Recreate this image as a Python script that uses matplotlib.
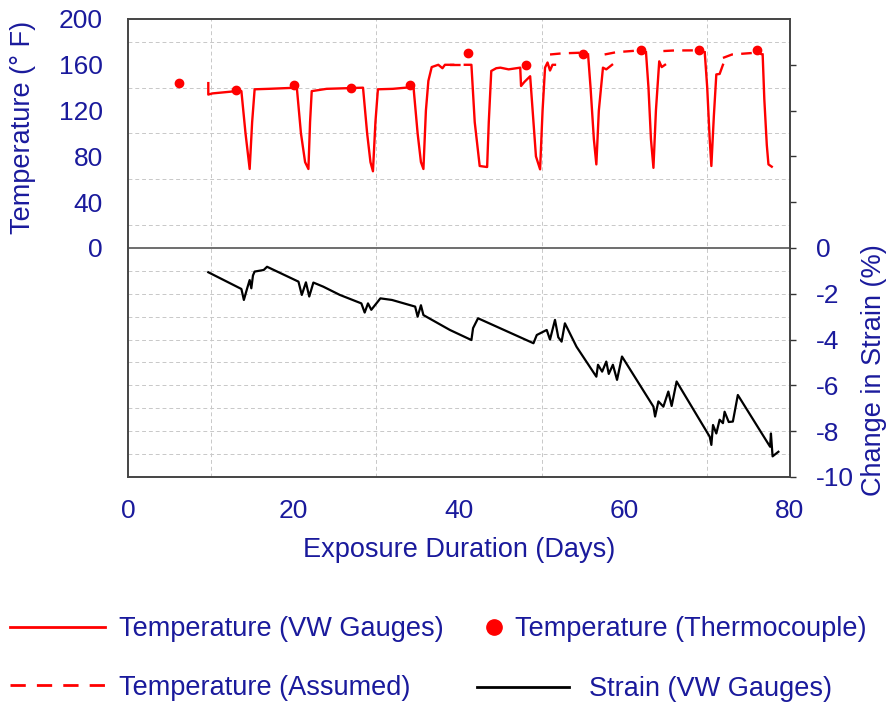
import matplotlib
matplotlib.use("Agg")
import matplotlib.pyplot as plt
from matplotlib.lines import Line2D

plt.rcParams['font.family'] = ['Liberation Sans', 'DejaVu Sans']

txt_color = '#1a1a9c'

# temperature from VW gauges (solid red), one list per measured stretch
vw_days_1 = [9.7, 9.7, 10.2, 13.1, 13.7, 14.2, 14.7, 15.0, 15.3, 17.0, 20.4, 20.9, 21.4, 21.8, 22.0, 22.2,
             24.0, 28.4, 28.9, 29.3, 29.6, 29.9, 30.2, 32.0, 34.5, 35.0, 35.4, 35.7, 36.0, 36.3, 36.7, 37.5,
             38.0, 38.3, 39.3]
vw_temp_1 = [144, 134, 135, 137, 137, 100, 69, 110, 138.6, 139, 140, 100, 75, 69, 110, 137,
             139, 140, 100, 75, 67, 110, 138.6, 139, 140.6, 100, 75, 69, 120, 146, 158, 160,
             157, 160, 160]
vw_days_2 = [40.7, 41.5, 41.9, 42.5, 43.4, 43.6, 43.9, 44.5, 45.0, 46.0, 47.4, 47.5, 47.9, 48.6, 48.9,
             49.3, 49.8, 50.1, 50.4, 50.7, 51.0, 51.3, 51.6]
vw_temp_2 = [160, 160, 110, 71.6, 70.7, 110, 154.6, 157, 157.5, 156, 157.5, 141.5, 145, 150, 120,
             80, 68.7, 120, 157.5, 162, 155, 160, 160]
vw_days_3 = [55.6, 55.9, 56.3, 56.6, 56.9, 57.4, 57.8, 58.5]
vw_temp_3 = [169, 140, 95, 73, 120, 157.5, 156, 160]
vw_days_4 = [62.6, 62.9, 63.2, 63.5, 63.8, 64.2, 64.5, 64.9]
vw_temp_4 = [171, 140, 95, 70, 120, 163, 158, 160]
vw_days_5 = [69.7, 70.0, 70.3, 70.5, 70.8, 71.1, 71.5, 71.9]
vw_temp_5 = [171, 140, 95, 71.6, 115, 151.6, 152, 160]
vw_days_6 = [76.7, 76.9, 77.2, 77.4, 77.8]
vw_temp_6 = [169, 130, 90, 73, 71]

# assumed temperature (dashed red)
as_days_1 = [38.9, 40.7]
as_temp_1 = [160, 160]
as_days_2 = [51.0, 52.5, 55.0, 55.6]
as_temp_2 = [169, 170, 170.6, 169]
as_days_3 = [57.6, 59.0, 61.9, 62.6]
as_temp_3 = [169, 171, 172.6, 171]
as_days_4 = [64.7, 66.0, 68.9, 69.7]
as_temp_4 = [172, 172.5, 172.6, 171]
as_days_5 = [71.9, 73.0, 76.0, 76.7]
as_temp_5 = [166, 169, 170.6, 169]

# thermocouple readings (red dots)
tc_days = [6.2, 13.05, 20.1, 27.0, 34.1, 41.1, 48.1, 55.0, 62.0, 69.0, 76.0]
tc_temp = [143.8, 138, 142, 140, 142, 170, 160, 169, 173, 172.6, 173]

# change in strain (black)
strain_days = [9.7, 13.7, 14.0, 14.4, 14.7, 14.9, 15.1, 15.3, 16.4, 16.8, 20.6, 21.0, 21.5, 21.9, 22.4,
               23.6, 25.6, 28.2, 28.6, 29.0, 29.4, 30.5, 31.9, 34.7, 35.0, 35.4, 35.7, 38.9, 41.5, 41.7,
               42.3, 49.0, 49.4, 50.6, 51.0, 51.6, 52.0, 52.4, 52.8, 54.2, 56.6, 56.8, 57.3, 57.8, 58.1,
               58.6, 59.1, 59.7, 63.5, 63.7, 64.1, 64.7, 65.3, 65.7, 66.3, 70.3, 70.5, 70.7, 71.1, 71.5,
               71.9, 72.1, 72.6, 73.1, 73.7, 77.6, 77.7, 77.9, 78.6]
strain_pct = [-1.06, -1.79, -2.27, -1.76, -1.4, -1.76, -1.2, -1.03, -0.96, -0.82, -1.47, -2.05, -1.5,
              -2.12, -1.51, -1.69, -2.05, -2.42, -2.82, -2.42, -2.7, -2.2, -2.27, -2.56, -3.0, -2.5,
              -2.93, -3.58, -4.02, -3.5, -3.07, -4.16, -3.8, -3.58, -4.0, -3.14, -3.9, -4.09, -3.29,
              -4.31, -5.62, -5.1, -5.4, -4.96, -5.5, -5.1, -5.76, -4.74, -6.93, -7.36, -6.7, -6.93,
              -6.27, -6.9, -5.83, -8.24, -8.6, -7.73, -8.1, -7.5, -7.65, -7.15, -7.6, -7.58, -6.42,
              -8.68, -8.1, -9.1, -8.9]

x_ticks = [0, 20, 40, 60, 80]
temp_ticks = [0, 40, 80, 120, 160, 200]
strain_ticks = [0, -2, -4, -6, -8, -10]

fig = plt.figure(figsize=(8.91, 7.06), dpi=100)
ax = fig.add_axes([0.1437, 0.3244, 0.7429, 0.6487])
ax2 = ax.twinx()

# grid
ax.set_xticks(range(0, 81, 10), minor=True)
ax.set_yticks(range(-200, 201, 20), minor=True)
ax.grid(which='minor', color='#c8c8c8', linestyle=(0, (4, 3)), linewidth=0.7)
ax.tick_params(which='minor', length=0)
ax.axhline(0, color='#555555', linewidth=1.2, zorder=3)

for d, t in [(vw_days_1, vw_temp_1), (vw_days_2, vw_temp_2), (vw_days_3, vw_temp_3),
             (vw_days_4, vw_temp_4), (vw_days_5, vw_temp_5), (vw_days_6, vw_temp_6)]:
    ax.plot(d, t, color='#ff0000', linewidth=1.7, zorder=4)
for d, t in [(as_days_1, as_temp_1), (as_days_2, as_temp_2), (as_days_3, as_temp_3),
             (as_days_4, as_temp_4), (as_days_5, as_temp_5)]:
    ax.plot(d, t, color='#ff0000', linewidth=1.7, linestyle=(0, (4.5, 3.5)), zorder=4)
ax.plot(tc_days, tc_temp, 'o', color='#ff0000', markersize=6, zorder=5)

ax2.plot(strain_days, strain_pct, color='black', linewidth=1.6, zorder=4)

ax.set_xlim(0, 80)
ax.set_ylim(-200, 200)
ax2.set_ylim(-10, 10)

ax.set_xticks(x_ticks)
ax.set_yticks(temp_ticks)
ax.tick_params(axis='x', which='major', length=0, labelsize=19, labelcolor=txt_color, pad=16)
ax.tick_params(axis='y', which='major', length=0, labelsize=19, labelcolor=txt_color, pad=18)

ax2.set_yticks(strain_ticks + [2, 4, 6, 8])
ax2.set_yticklabels([str(v) for v in strain_ticks] + ['', '', '', ''])
ax2.tick_params(axis='y', length=4, width=1, color='#333333', labelsize=19, labelcolor=txt_color, pad=15)

for a in (ax, ax2):
    for s in a.spines.values():
        s.set_color('#444444')
        s.set_linewidth(1.2)

ax.set_xlabel('Exposure Duration (Days)', fontsize=19.5, color=txt_color, labelpad=10)
fig.text(0.026, 0.82, 'Temperature (° F)', rotation=90, ha='center', va='center', fontsize=19.5, color=txt_color)
fig.text(0.981, 0.476, 'Change in Strain (%)', rotation=90, ha='center', va='center', fontsize=19.5, color=txt_color)

# legend, four separate entries placed under the chart
entries = [
    (Line2D([], [], color='#ff0000', linewidth=2), 'Temperature (VW Gauges)', 0.011, 0.109, 3.5, 0.55),
    (Line2D([], [], color='#ff0000', marker='o', linestyle='none', markersize=11), 'Temperature (Thermocouple)', 0.539, 0.109, 1.0, 0.3),
    (Line2D([], [], color='#ff0000', linewidth=2, linestyle=(0, (5.5, 4))), 'Temperature (Assumed)', 0.011, 0.026, 3.5, 0.55),
    (Line2D([], [], color='black', linewidth=2), 'Strain (VW Gauges)', 0.535, 0.024, 3.4, 0.75),
]
for h, lab, lx, ly, hl, tp in entries:
    fig.legend(handles=[h], labels=[lab], loc='center left', bbox_to_anchor=(lx, ly),
               frameon=False, fontsize=19.5, labelcolor=txt_color, handlelength=hl,
               handletextpad=tp, borderpad=0, borderaxespad=0)

fig.savefig('out.png', dpi=100)
